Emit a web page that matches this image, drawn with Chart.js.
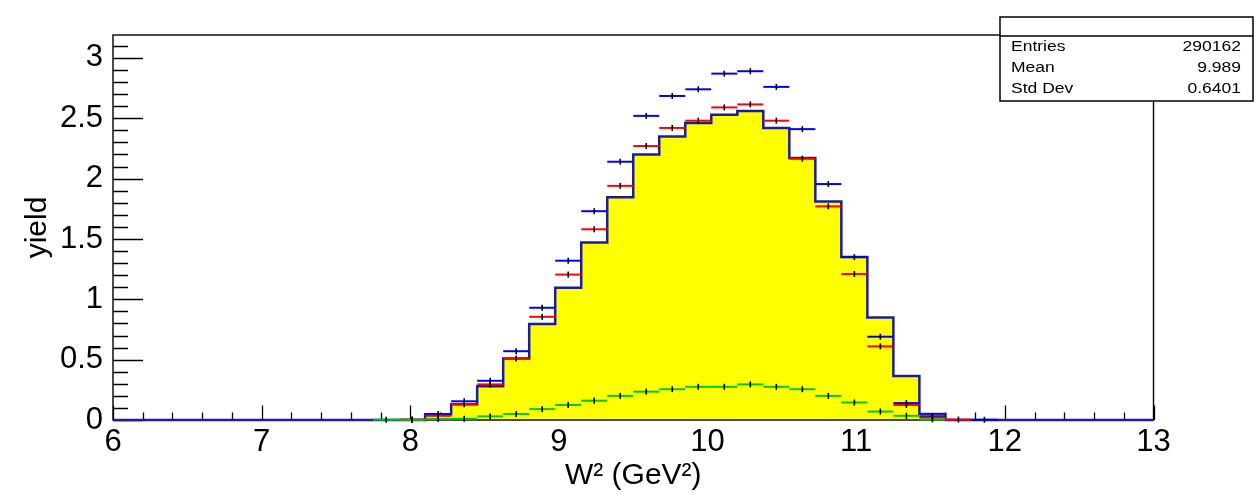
<!DOCTYPE html>
<html><head><meta charset="utf-8">
<script src="https://cdn.jsdelivr.net/npm/chart.js@4.4.0/dist/chart.umd.min.js"></script>
<style>html,body{margin:0;padding:0;background:#fff;overflow:hidden}#wrap{width:1257px;height:495px;position:relative}</style>
</head><body><div id="wrap"><canvas id="c" width="1257" height="495"></canvas></div>
<script>
// ---- data (40 bins from 6 to 13, width 0.175) ----
const xMin = 6, xMax = 13, binWidth = 0.175;
const histYield = [0,0,0,0,0,0,0,0,0,0, 0,0,0.047,0.13,0.28,0.51,0.795,1.095,1.47,1.845,
  2.2,2.35,2.46,2.53,2.56,2.42,2.17,1.81,1.35,0.85, 0.365,0.05,0,0,0,0,0,0,0,0];
const blueYield = [0,0,0,0,0,0,0,0,0,0, 0,0.002,0.05,0.155,0.325,0.57,0.93,1.32,1.73,2.14,
  2.52,2.685,2.74,2.87,2.89,2.76,2.41,1.955,1.35,0.69, 0.14,0.03,0,0.002,0,0,0,0,0,0];
const redYield = [0,0,0,0,0,0,0,0,0,0, 0,0.003,0.035,0.13,0.295,0.51,0.855,1.205,1.58,1.94,
  2.27,2.42,2.48,2.59,2.615,2.48,2.165,1.77,1.21,0.61, 0.125,0.02,0.004,0,0,0,0,0,0,0];
const greenYield = [0,0,0,0,0,0,0,0,0,0, 0.003,0.002,0.008,0.01,0.03,0.05,0.09,0.125,0.16,0.2,
  0.235,0.255,0.275,0.275,0.295,0.275,0.255,0.2,0.145,0.07, 0.035,0.005,0,0,0,0,0,0,0,0];
const xTickValues = [6,7,8,9,10,11,12,13];
const yTickValues = [0,0.5,1,1.5,2,2.5,3];
const yMax = 3.19;
const statsLabels = ['Entries','Mean','Std Dev'];
const statsValues = ['290162','9.989','0.6401'];
const xTitle = 'W\u00B2 (GeV\u00B2)';
const yTitle = 'yield';

// ---- build library data ----
const histPoints = histYield.map((v,i)=>({x: xMin + i*binWidth, y: v}));
histPoints.push({x: xMax, y: histYield[histYield.length-1]});
const toPts = arr => arr.map((v,i)=>({x: xMin + (i+0.5)*binWidth, y: v})).filter(p=>p.y>0);
const FONT = '"Liberation Sans", Arial, Helvetica, sans-serif';
const halfBin = (ctx) => { const s = ctx.chart.scales.x; return (s.getPixelForValue(xMin+binWidth) - s.getPixelForValue(xMin))/2; };

function seriesSet(arr, color, ord){
  return {data: toPts(arr), showLine:false, pointStyle:'line', pointRadius: halfBin,
    pointBorderColor: color, pointBackgroundColor: color, pointBorderWidth: 2, pointRotation: 0, clip:false, order: ord};
}
function markerSet(arr, ord){
  return {data: toPts(arr), showLine:false, pointStyle:'line', pointRadius: 3,
    pointBorderColor:'#000', pointBorderWidth:1.6, pointRotation:90, clip:false, order: ord};
}

const framePlugin = {
  id:'frame',
  beforeDatasetsDraw(chart){
    const {ctx, chartArea:a, scales:{x, y}} = chart;
    ctx.save(); ctx.strokeStyle='#000'; ctx.lineWidth=1.3; ctx.beginPath();
    const nx = Math.round((xMax-xMin)/0.2);
    for(let i=0;i<=nx;i++){ const px = Math.round(x.getPixelForValue(xMin+i*0.2))+0.5; const len = (i%5===0)?14.5:7.5;
      ctx.moveTo(px, a.bottom); ctx.lineTo(px, a.bottom-len); }
    for(let j=0;j*0.1<=yMax;j++){ const py = Math.round(y.getPixelForValue(j*0.1))+0.5; const len = (j%5===0)?30:15;
      ctx.moveTo(a.left, py); ctx.lineTo(a.left+len, py); }
    ctx.stroke(); ctx.restore();
  },
  afterDatasetDraw(chart, args){
    if(args.index!==0) return;
    const {ctx, chartArea:a} = chart;
    ctx.save(); ctx.strokeStyle='#000'; ctx.lineWidth=1.4;
    ctx.strokeRect(a.left, a.top, a.right-a.left, a.bottom-a.top); ctx.restore();
  },
  afterDraw(chart){
    const ctx = chart.ctx; ctx.save();
    const bx=1000, by=17, bw=253, bh=84;
    ctx.fillStyle='#fff'; ctx.fillRect(bx,by,bw,bh);
    ctx.strokeStyle='#000'; ctx.lineWidth=1.5; ctx.strokeRect(bx,by,bw,bh);
    ctx.beginPath(); ctx.moveTo(bx,36); ctx.lineTo(bx+bw,36); ctx.stroke();
    ctx.fillStyle='#000'; ctx.font='14px '+FONT; ctx.textBaseline='alphabetic';
    const base=[51,72,93], sx=1.25;
    statsLabels.forEach((t,i)=>{
      ctx.save(); ctx.translate(1011, base[i]); ctx.scale(sx,1); ctx.textAlign='left'; ctx.fillText(t, 0, 0); ctx.restore();
      ctx.save(); ctx.translate(1241, base[i]); ctx.scale(sx,1); ctx.textAlign='right'; ctx.fillText(statsValues[i], 0, 0); ctx.restore();
    });
    ctx.restore();
  }
};

new Chart(document.getElementById('c'), {
  type:'line',
  data:{ datasets:[
    {data: histPoints, stepped:true, borderWidth:0, borderColor:'rgba(0,0,0,0)', fill:'origin', backgroundColor:'#ffff00', pointRadius:0, order:10},
    {data: histPoints, stepped:true, borderWidth:2.5, borderColor:'#1c1c9c', fill:false, pointRadius:0, clip:false, order:9},
    seriesSet(blueYield,'#0000ff',5),
    seriesSet(redYield,'#ff0000',4),
    seriesSet(greenYield,'#00c800',3),
    markerSet(blueYield,2), markerSet(redYield,1), markerSet(greenYield,0)
  ]},
  options:{
    responsive:false, animation:false, events:[],
    layout:{padding:{top:35, right:103.5, left:0, bottom:0}},
    plugins:{legend:{display:false}, tooltip:{enabled:false}},
    scales:{
      x:{type:'linear', min:xMin, max:xMax,
        afterBuildTicks:s=>{ s.ticks = xTickValues.map(v=>({value:v})); },
        afterFit:s=>{ s.height = 75; },
        grid:{display:false, drawTicks:false}, border:{display:false},
        ticks:{color:'#000', font:{family:FONT, size:31}, padding:4, maxRotation:0, autoSkip:false, callback:v=>String(v)},
        title:{display:true, text:xTitle, color:'#000', font:{family:FONT, size:30}, padding:{top:0,bottom:1}}
      },
      y:{min:0, max:yMax,
        afterBuildTicks:s=>{ s.ticks = yTickValues.map(v=>({value:v})); },
        afterFit:s=>{ s.width = 113; },
        grid:{display:false, drawTicks:false}, border:{display:false},
        ticks:{color:'#000', font:{family:FONT, size:31}, padding:10, callback:v=>String(v)},
        title:{display:true, text:yTitle, color:'#000', font:{family:FONT, size:30}, padding:{top:20,bottom:0}}
      }
    }
  },
  plugins:[framePlugin]
});
</script></body></html>
